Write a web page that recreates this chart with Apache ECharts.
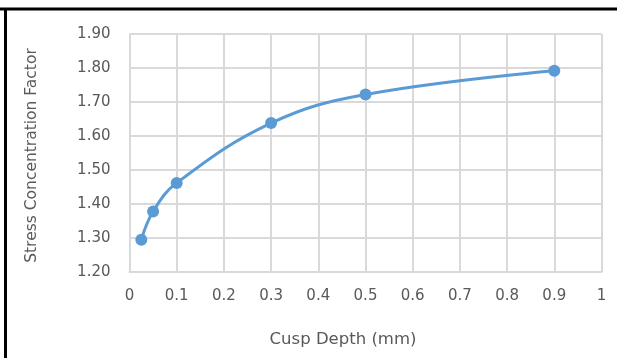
<!DOCTYPE html>
<html>
<head>
<meta charset="utf-8">
<script src="https://cdn.jsdelivr.net/npm/echarts@6/dist/echarts.min.js"></script>
<style>html,body{margin:0;padding:0;background:#fff}#c{width:617px;height:358px}</style>
</head>
<body>
<div id="c"></div>
<script>
const cuspDepth = [0.025, 0.05, 0.1, 0.3, 0.5, 0.9];
const stressFactor = [1.295, 1.378, 1.462, 1.638, 1.722, 1.792];
const xTitle = 'Cusp Depth (mm)';
const yTitle = 'Stress Concentration Factor';

const chart = echarts.init(document.getElementById('c'), null, {renderer: 'canvas'});
const font = '"DejaVu Sans", sans-serif';
const txt = '#595959';
const gridColor = '#d9d9d9';

chart.setOption({
  animation: false,
  backgroundColor: '#fff',
  grid: {left: 129.5, right: 15.5, top: 34, bottom: 86},
  xAxis: {
    type: 'value', min: 0, max: 1, interval: 0.1,
    axisLine: {show: true, lineStyle: {color: gridColor, width: 2}},
    axisTick: {show: false},
    splitLine: {show: true, lineStyle: {color: gridColor, width: 2}},
    axisLabel: {color: txt, fontFamily: font, fontSize: 15, margin: 17,
      formatter: v => (Math.round(v * 10) / 10).toString()}
  },
  yAxis: {
    type: 'value', min: 1.2, max: 1.9, interval: 0.1,
    axisLine: {show: true, lineStyle: {color: gridColor, width: 2}},
    axisTick: {show: false},
    splitLine: {show: true, lineStyle: {color: gridColor, width: 2}},
    axisLabel: {color: txt, fontFamily: font, fontSize: 15, margin: 19,
      formatter: v => v.toFixed(2)}
  },
  series: [{
    type: 'line',
    data: cuspDepth.map((x, i) => [x, stressFactor[i]]),
    smooth: 0.4,
    symbol: 'circle',
    symbolSize: 12,
    lineStyle: {color: '#5b9bd5', width: 3},
    itemStyle: {color: '#5b9bd5'}
  }],
  graphic: [
    {type: 'line', shape: {x1: 0, y1: 9, x2: 617, y2: 9}, style: {stroke: '#000', lineWidth: 3}},
    {type: 'line', shape: {x1: 5.5, y1: 8, x2: 5.5, y2: 358}, style: {stroke: '#000', lineWidth: 3}},
    {type: 'text', x: 343, y: 340,
      style: {text: xTitle, fill: txt, font: '16.5px ' + font, textAlign: 'center', textVerticalAlign: 'middle'}},
    {type: 'text', rotation: Math.PI / 2, x: 32, y: 155.5,
      style: {text: yTitle, fill: txt, font: '15.5px ' + font, textAlign: 'center', textVerticalAlign: 'middle'}}
  ]
});
</script>
</body>
</html>
